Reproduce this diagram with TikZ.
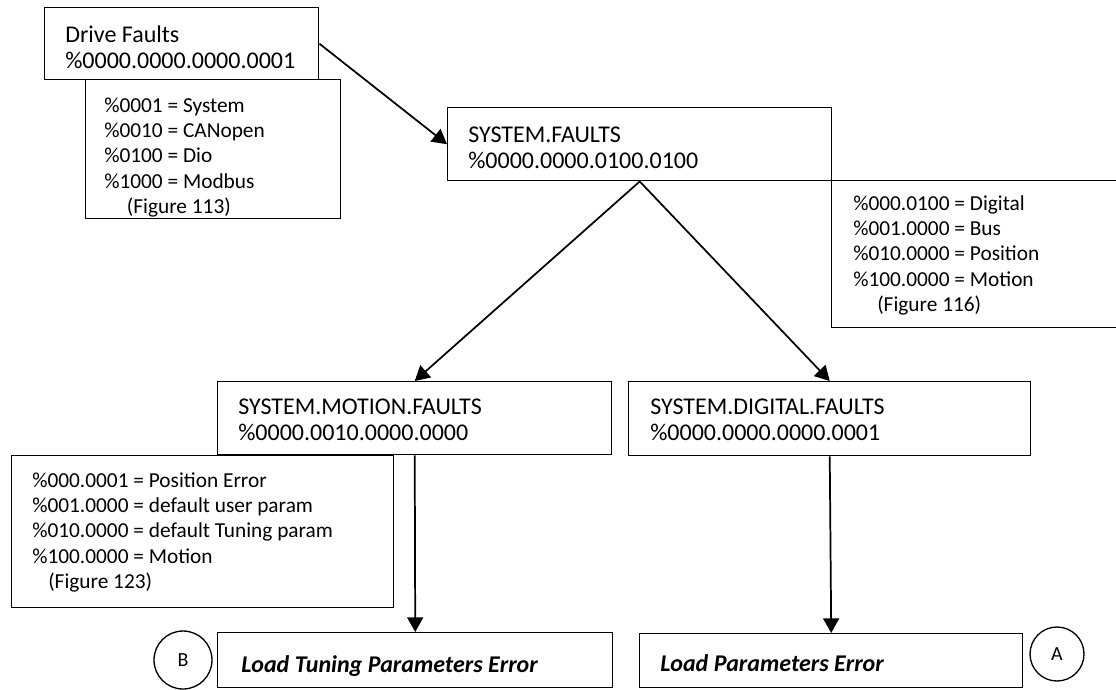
\documentclass[tikz,border=0pt]{standalone}
\usepackage{fontspec}
\setmainfont{Carlito}
\usetikzlibrary{arrows.meta}
\usetikzlibrary{positioning}

\tikzset{
  fbox/.style={draw, line width=1.1pt, anchor=north west, inner sep=0pt},
  hdtext/.style={anchor=base west, inner sep=0pt, align=flush left, text width=12cm,
    font=\fontsize{18}{20}\selectfont},
  lgtext/.style={anchor=base west, inner sep=0pt, align=flush left, text width=12cm,
    font=\fontsize{16}{19}\selectfont},
  endtext/.style={hdtext, font=\fontsize{18}{20}\selectfont\bfseries\itshape},
  letter/.style={draw, circle, line width=1pt, inner sep=0pt,
    font=\fontsize{15}{18}\selectfont},
  link/.style={-{Triangle[length=11pt,width=12pt]}, line width=1.3pt},
}

\begin{document}
\begin{tikzpicture}[x=0.75pt, y=-0.75pt]
\useasboundingbox (0,0) rectangle (1116,689);

%D: drive faults
\node[fbox, minimum width=205.5pt, minimum height=54pt] (df) at (44,7) {};
\node[hdtext] (dft) at ([shift={(21,35)}]df.north west) {Drive Faults\\\%0000.0000.0000.0001};

\node[fbox, minimum width=191.25pt, minimum height=104.25pt] (lgdf) at (85,79) {};
\node[lgtext] (lgdft) at ([shift={(19,33)}]lgdf.north west)
  {\%0001 = System\\\%0010 = CANopen\\\%0100 = Dio\\\%1000 = Modbus\\\hspace*{17pt}(Figure 113)};

%S: system faults
\node[fbox, minimum width=288pt, minimum height=54.75pt] (sf) at (447,107) {};
\node[hdtext] (sft) at ([shift={(21,35)}]sf.north west) {SYSTEM.FAULTS\\\%0000.0000.0100.0100};

\node[fbox, minimum width=225pt, minimum height=110.25pt] (lgsf) at (831,180) {};
\node[lgtext] (lgsft) at ([shift={(22,30)}]lgsf.north west)
  {\%000.0100 = Digital\\\%001.0000 = Bus\\\%010.0000 = Position\\\%100.0000 = Motion\\\hspace*{18pt}(Figure 116)};

%M: motion faults
\node[fbox, minimum width=295.5pt, minimum height=54.75pt] (smf) at (217,381) {};
\node[hdtext] (smft) at ([shift={(21,33)}]smf.north west) {SYSTEM.MOTION.FAULTS\\\%0000.0010.0000.0000};

\node[fbox, minimum width=286.5pt, minimum height=114pt] (lgmf) at (11,455) {};
\node[lgtext] (lgmft) at ([shift={(21,32)}]lgmf.north west)
  {\%000.0001 = Position Error\\\%001.0000 = default user param\\\%010.0000 = default Tuning param\\\%100.0000 = Motion\\\hspace*{12pt}(Figure 123)};

%G: digital faults
\node[fbox, minimum width=301.5pt, minimum height=55.5pt] (sdf) at (628,381) {};
\node[hdtext] (sdft) at ([shift={(22,33)}]sdf.north west) {SYSTEM.DIGITAL.FAULTS\\\%0000.0000.0000.0001};

%E: errors
\node[fbox, minimum width=296.25pt, minimum height=41.25pt] (ltp) at (217,632) {};
\node[endtext] (ltpt) at ([shift={(24,40)}]ltp.north west) {Load Tuning Parameters Error};
\node[letter, minimum size=43.5pt] (cb) at (183,660) {B};

\node[fbox, minimum width=287.25pt, minimum height=40.5pt] (lp) at (639,633) {};
\node[endtext] (lpt) at ([shift={(21,38)}]lp.north west) {Load Parameters Error};
\node[letter, minimum size=40.5pt] (ca) at (1057,654) {A};

% links
\draw[link] (df.east) -- (sf.west);
\draw[link] (sf.south) -- (smf.north);
\draw[link] (sf.south) -- (sdf.north);
\draw[link] (smf.south) -- (ltp.north);
\draw[link] (sdf.south) -- (lp.north);
\end{tikzpicture}
\end{document}
